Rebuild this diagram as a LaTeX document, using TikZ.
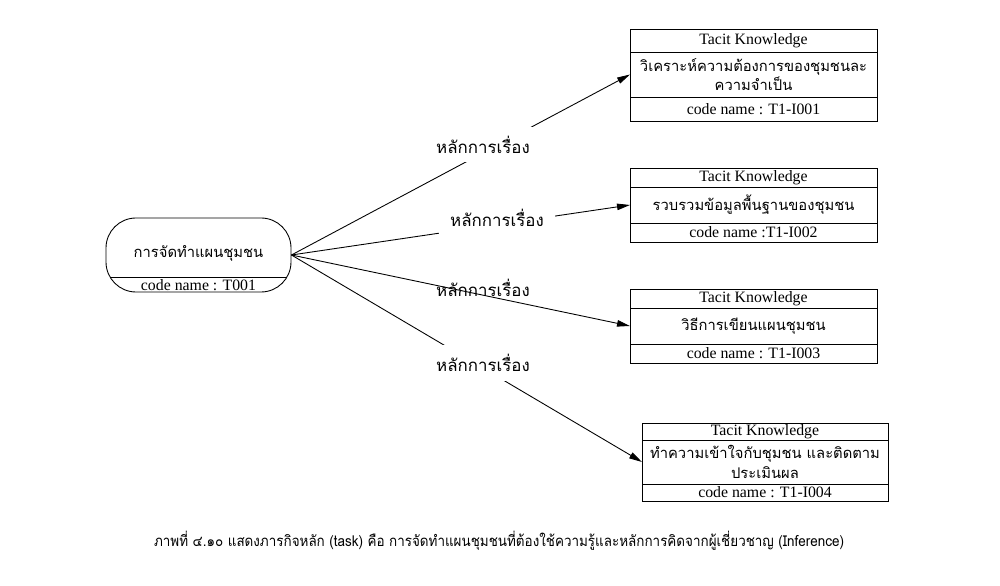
\documentclass[tikz,border=0pt]{standalone}
\usepackage{fontspec}
\setmainfont{Liberation Serif}
\newfontfamily\thaifont[Script=Thai]{Loma}
\newfontfamily\capfont[Script=Thai, FakeStretch=0.9]{Loma}
\usetikzlibrary{calc,positioning,arrows.meta}

\begin{document}
\begin{tikzpicture}[tasknode/.style={draw, rounded corners=0.6cm, minimum width=3.7cm, minimum height=1.48cm, path picture={\draw ($(path picture bounding box.south west)+(0,0.3)$) -- ($(path picture bounding box.south east)+(0,0.3)$);}}, partnode/.style={draw, minimum width=4.94cm, inner xsep=1pt, inner ysep=0pt, outer sep=0pt, align=center}, thainode/.style={font=\thaifont\fontsize{8.4}{11}\selectfont}, engnode/.style={font=\fontsize{9}{10}\selectfont}, lbl/.style={font=\thaifont\fontsize{9.6}{12}\selectfont, fill=white, inner xsep=4pt, inner ysep=5pt}, arr/.style={-{Triangle[length=2.6mm,width=1.3mm]}}, line width=0.5pt]
			\useasboundingbox (0,0) rectangle (20,11.72);

			\node[tasknode] (task) at (3.97,6.62) {};
			\node[thainode] (taskname) at ($(task)+(0,0.04)$) {การจัดทำแผนชุมชน};
			\node[engnode] (taskcode) at ($(task)+(0,-0.6)$) {code name : T001};

			% box 1
			\node[partnode, engnode, minimum height=0.46cm] (t1) at (15.07,10.91) {Tacit Knowledge};
			\node[partnode, thainode, minimum height=0.90cm, below=0pt of t1] (k1) {วิเคราะห์ความต้องการของชุมชนละ\\ความจำเป็น};
			\node[partnode, engnode, minimum height=0.48cm, below=0pt of k1] (c1) {code name : T1-I001};

			% box 2
			\node[partnode, engnode, minimum height=0.38cm] (t2) at (15.07,8.17) {Tacit Knowledge};
			\node[partnode, thainode, minimum height=0.72cm, below=0pt of t2] (k2) {รวบรวมข้อมูลพื้นฐานของชุมชน};
			\node[partnode, engnode, minimum height=0.38cm, below=0pt of k2] (c2) {code name :T1-I002};

			% box 3
			\node[partnode, engnode, minimum height=0.38cm] (t3) at (15.07,5.75) {Tacit Knowledge};
			\node[partnode, thainode, minimum height=0.72cm, below=0pt of t3] (k3) {วิธีการเขียนแผนชุมชน};
			\node[partnode, engnode, minimum height=0.38cm, below=0pt of k3] (c3) {code name : T1-I003};

			% box 4
			\node[partnode, engnode, minimum width=4.92cm, minimum height=0.34cm] (t4) at (15.30,3.09) {Tacit Knowledge};
			\node[partnode, thainode, minimum width=4.92cm, minimum height=0.88cm, below=0pt of t4] (k4) {ทำความเข้าใจกับชุมชน และติดตาม\\ประเมินผล};
			\node[partnode, engnode, minimum width=4.92cm, minimum height=0.34cm, below=0pt of k4] (c4) {code name : T1-I004};

			\draw[arr] (task.east) -- (k1.west);
			\draw[arr] (task.east) -- (k2.west);
			\draw[arr] (task.east) -- (k3.west);
			\draw[arr] (task.east) -- (k4.west);

			\node[lbl] (l1) at (9.66,8.82) {หลักการเรื่อง};
			\node[lbl, inner xsep=6.5pt] (l2) at (9.94,7.36) {หลักการเรื่อง};
			\node[lbl, fill=none] (l3) at (9.66,5.96) {หลักการเรื่อง};
			\node[lbl] (l4) at (9.66,4.46) {หลักการเรื่อง};

			\node[font=\capfont\fontsize{8.5}{11}\selectfont] (caption) at (9.98,0.9) {ภาพที่ ๔.๑๐ แสดงภารกิจหลัก (task) คือ การจัดทำแผนชุมชนที่ต้องใช้ความรู้และหลักการคิดจากผู้เชี่ยวชาญ (Inference)};
		\end{tikzpicture}
\end{document}
